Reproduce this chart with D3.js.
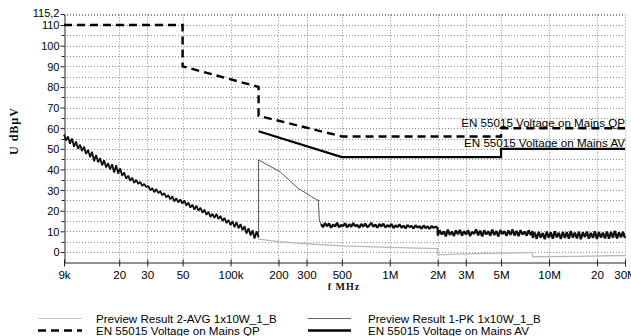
<!DOCTYPE html>
<html><head><meta charset="utf-8">
<script src="https://cdn.jsdelivr.net/npm/d3@7"></script>
<style>body{margin:0;background:#fff;overflow:hidden}</style>
</head><body><svg id="c" width="631" height="336"></svg>
<script>
// ---------- data ----------
const xTickValues = [9e3,2e4,3e4,5e4,1e5,2e5,3e5,5e5,1e6,2e6,3e6,5e6,1e7,2e7,3e7];
const xTickLabels = ["9k","20","30","50","100k","200","300","500","1M","2M","3M","5M","10M","20","30M"];
const yTickValues = [0,10,20,30,40,50,60,70,80,90,100,110];
const yTopValue = 115.2, yTopLabel = "115,2";

// EN 55015 limits
const qpFreq  = [9e3, 5e4, 5e4, 1.5e5, 1.5e5, 5e5, 5e6, 5e6, 3e7];
const qpLevel = [110, 110, 90, 80, 66, 56, 56, 60, 60];
const avFreq  = [1.5e5, 5e5, 5e6, 5e6, 3e7];
const avLevel = [58.5, 46, 46, 50, 50];

// Preview Result 2-AVG
const avgFreq  = [1.5e5, 2e5, 3e5, 5e5, 1e6, 2e6, 2e6, 3e6, 5e6, 7.5e6, 7.9e6, 7.9e6, 1.5e7, 3e7];
const avgLevel = [6.2, 5.0, 4.0, 3.0, 2.2, 1.6, -1.4, -0.9, -0.6, -0.3, -0.2, -2.3, -2.1, -1.7];

// Preview Result 1-PK : scan 9 kHz - 150 kHz
const pkScanA = [9e3, 1.5e5];
const pkScanALevel = [57,54,56,52.5,55, 51,53.5,50,52,49, 51,47.5,49.5,46,48.5, 44,47,43.5,45.5,42,
  44.5,41,43,40,42.5, 38.5,42,38,40.5,37, 38.5,35.5,37,34.5,36, 33.5,35,33,34,32,
  33,31.5,32,30,31, 29,30.5,28.5,29.5,27.5, 28.5,26.5,27.5,25.5,27, 24.5,26,24,25.5,23.5,
  25,22.5,24,21.5,23, 20.5,22.5,20,21.5,19, 20.5,18,19.5,17,18.5, 16.5,18.5,16,17.5,15,
  16.5,14,15.5,13,15, 12,14.5,11.5,13.5,10.5, 12.5,9,11.5,8,10.5, 6.5,10,7];
// PK 150 kHz - 370 kHz
const pkSweepFreq  = [1.5e5, 1.5e5, 2.046e5, 2.653e5, 3.235e5, 3.478e5, 3.559e5, 3.61e5, 3.7e5];
const pkSweepLevel = [7, 44.6, 38.9, 30.9, 26.8, 25.2, 25.2, 15.5, 13.5];
// PK 370 kHz - 2 MHz
const pkScanB = [3.7e5, 2e6];
const pkScanBLevel = [13.5,12,14,12.5,13.8,11.8,13.2,12.4,14.2,12, 13,12.6,13.9,11.9,13.4,12.2,14,12.5,13.1,11.7,
  13.6,12.3,13.8,12,12.9,14.1,12.2,13.3,11.8,13.5, 12.4,13.7,11.9,13,12.2,13.6,11.6,12.9,12.1,13.4,
  11.8,12.7,11.5,13,12.1,12.6,11.4,12.9,11.9,12.5, 11.3,12.8,11.6,12.4,11.2,12.6,11.7,12.3,11.5];
// PK 2 MHz - 7.9 MHz
const pkScanC = [2e6, 7.9e6];
const pkScanCLevel = [8,10.5,8.5,10,7.6,10.8,8.3,9.9,7.8,10.4, 8.6,10.7,7.9,10.1,8.4,10.6,7.7,9.8,8.8,10.9,
  8.1,10.3,7.6,10.5,8.5,10,7.9,10.8,8.2,10.2, 7.5,10.6,8.7,10.1,7.8,10.4,8.3,10.9,8,10.2,
  7.7,10.6,8.4,9.9,7.9,10.5,8.2,10.1];
// PK 7.9 MHz - 30 MHz
const pkScanD = [7.9e6, 3e7];
const pkScanDLevel = [6.8,9.4,6.4,9.8,7,9.2,6.2,9.9,6.9,9.5, 6.5,10,7.1,9.3,6.3,9.7,6.8,9.6,6.4,10.1,
  7,9.4,6.6,9.8,6.2,9.5,7.2,9.9,6.5,9.3, 6.8,10,6.3,9.6,7,9.4,6.6,9.9,6.4,9.7,
  6.9,10.2,6.5,9.5,7.1,9.8,6.7];

const legendLabels = ["Preview Result 2-AVG 1x10W_1_B","EN 55015 Voltage on Mains QP",
                      "Preview Result 1-PK 1x10W_1_B","EN 55015 Voltage on Mains AV"];
const limitLabels = ["EN 55015 Voltage on Mains QP","EN 55015 Voltage on Mains AV"];
const xTitle = "f MHz", yTitle = "U dBµV";

// ---------- build ----------
const svg = d3.select("#c");
const x = d3.scaleLog().domain([9e3, 3e7]).range([64, 625]);
const y = d3.scaleLinear().domain([-5, 115.2]).range([262.3, 14.3]);
const px = v => Math.round(x(v)) + 0.5;
const py = v => Math.round(y(v)) + 0.5;

function scanPoints(range, levels) {
  const n = levels.length, lr = Math.log(range[1] / range[0]);
  return levels.map((v, i) => [range[0] * Math.exp(lr * i / (n - 1)), v]);
}
const zip = (f, l) => f.map((d, i) => [d, l[i]]);

// grid
const g = svg.append("g");
const hVals = d3.range(0, 116, 5).concat([yTopValue]);
g.selectAll("line.h").data(hVals).join("line")
  .attr("x1", 64).attr("x2", 625).attr("y1", d => py(d)).attr("y2", d => py(d))
  .attr("stroke", "#8a8a8a").attr("stroke-dasharray", "1,2");
g.selectAll("line.v").data(xTickValues.slice(1)).join("line")
  .attr("y1", py(yTopValue)).attr("y2", py(-5)).attr("x1", d => px(d)).attr("x2", d => px(d))
  .attr("stroke", "#8a8a8a").attr("stroke-dasharray", "1,2");

// axes
const font = "'Liberation Sans', Arial, sans-serif";
const fs = 11.6;
const xAxis = d3.axisBottom(x).tickValues(xTickValues).tickFormat((d, i) => xTickLabels[i]).tickSize(4).tickSizeOuter(0);
const xa = svg.append("g").attr("transform", `translate(0,${py(-5)})`).call(xAxis);
xa.select(".domain").attr("stroke", "#222");
xa.selectAll(".tick line").attr("y1", -3).attr("stroke", "#222");
xa.selectAll(".tick text").attr("font-family", font).attr("font-size", fs).attr("fill", "#000").attr("dy", "0.8em");

const yAxis = d3.axisLeft(y).tickValues(yTickValues).tickSize(4).tickSizeOuter(0);
const ya = svg.append("g").attr("transform", `translate(${px(9e3)},0)`).call(yAxis);
ya.select(".domain").attr("stroke", "#222");
ya.selectAll(".tick line").attr("stroke", "#222");
ya.selectAll(".tick text").attr("font-family", font).attr("font-size", 11).attr("fill", "#000").attr("x", -5).attr("dy", "0.36em");
ya.append("g").selectAll("line").data(d3.range(5, 110, 10)).join("line")
  .attr("x1", -3).attr("x2", 0).attr("y1", d => py(d)).attr("y2", d => py(d)).attr("stroke", "#222");
ya.append("line").attr("x1", -4).attr("x2", 0).attr("y1", py(yTopValue)).attr("y2", py(yTopValue)).attr("stroke", "#222");
ya.append("text").attr("x", -5).attr("y", py(yTopValue)).attr("dy", "0.22em").attr("text-anchor", "end")
  .attr("font-family", font).attr("font-size", 11).attr("fill", "#000").text(yTopLabel);

// traces
const line = d3.line().x(d => x(d[0])).y(d => y(d[1]));
svg.append("path").datum(zip(avgFreq, avgLevel)).attr("d", line)
  .attr("fill", "none").attr("stroke", "#b8b8b8").attr("stroke-width", 1.3);
svg.append("path").datum(zip(pkSweepFreq, pkSweepLevel)).attr("d", line)
  .attr("fill", "none").attr("stroke", "#555").attr("stroke-width", 1);
svg.append("path").datum(scanPoints(pkScanA, pkScanALevel)).attr("d", line)
  .attr("fill", "none").attr("stroke", "#111").attr("stroke-width", 1.8).attr("stroke-linejoin", "bevel");
svg.append("path").datum([].concat(scanPoints(pkScanB, pkScanBLevel), scanPoints(pkScanC, pkScanCLevel), scanPoints(pkScanD, pkScanDLevel)))
  .attr("d", line).attr("fill", "none").attr("stroke", "#111").attr("stroke-width", 2.3).attr("stroke-linejoin", "bevel");
svg.append("path").datum(zip(avFreq, avLevel)).attr("d", line)
  .attr("fill", "none").attr("stroke", "#000").attr("stroke-width", 2.2);
svg.append("path").datum(zip(qpFreq, qpLevel)).attr("d", line)
  .attr("fill", "none").attr("stroke", "#000").attr("stroke-width", 2.4).attr("stroke-dasharray", "8,5");

// limit labels
svg.append("text").attr("x", 625).attr("y", y(60) - 1.5).attr("text-anchor", "end")
  .attr("font-family", font).attr("font-size", fs).attr("fill", "#000").text(limitLabels[0]);
svg.append("text").attr("x", 625).attr("y", y(50) - 2).attr("text-anchor", "end")
  .attr("font-family", font).attr("font-size", fs).attr("fill", "#000").text(limitLabels[1]);

// axis titles
const serif = "'Liberation Serif', 'Times New Roman', serif";
svg.append("text").attr("x", 344).attr("y", 290).attr("text-anchor", "middle")
  .attr("font-family", serif).attr("font-weight", "bold").attr("font-size", 10).attr("letter-spacing", 1)
  .attr("fill", "#111").text(xTitle);
svg.append("text").attr("transform", "translate(18,131) rotate(-90)").attr("text-anchor", "middle")
  .attr("font-family", serif).attr("font-weight", "bold").attr("font-size", 12).attr("letter-spacing", 1)
  .attr("fill", "#111").text(yTitle);

// legend
const leg = [
  {x1: 38, x2: 82, y: 318.5, tx: 96, stroke: "#c8c8c8", w: 1, dash: null},
  {x1: 38, x2: 82, y: 330.5, tx: 96, stroke: "#000", w: 2.4, dash: "8,5"},
  {x1: 308, x2: 351, y: 318.5, tx: 368, stroke: "#666", w: 1, dash: null},
  {x1: 308, x2: 351, y: 330.5, tx: 368, stroke: "#000", w: 2.4, dash: null}
];
const lg = svg.append("g").selectAll("g").data(leg).join("g");
lg.append("line").attr("x1", d => d.x1).attr("x2", d => d.x2).attr("y1", d => d.y).attr("y2", d => d.y)
  .attr("stroke", d => d.stroke).attr("stroke-width", d => d.w).attr("stroke-dasharray", d => d.dash);
lg.append("text").attr("x", d => d.tx).attr("y", d => d.y + 4.5)
  .attr("font-family", font).attr("font-size", fs).attr("fill", "#000").text((d, i) => legendLabels[i]);
</script></body></html>
